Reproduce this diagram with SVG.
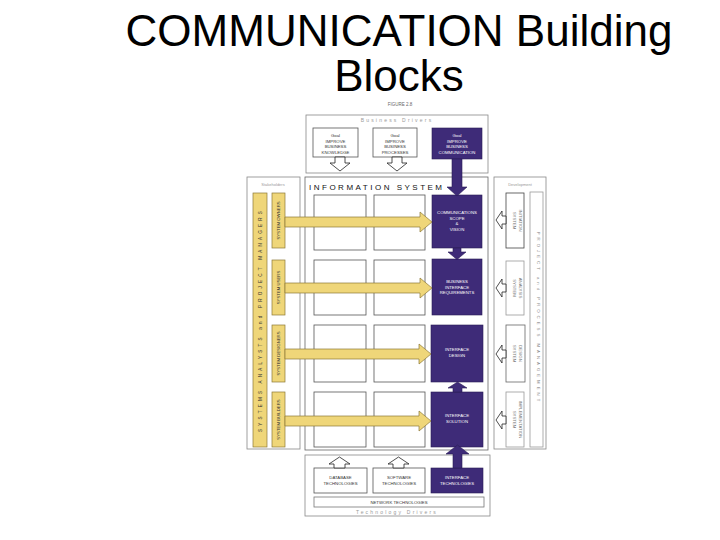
<svg xmlns="http://www.w3.org/2000/svg" width="720" height="540" viewBox="0 0 720 540">
<style>
.title{font-family:"Liberation Sans",Arial,sans-serif;font-size:44px;fill:#000;text-anchor:middle}
.t{font-family:"Liberation Sans",Arial,sans-serif;text-anchor:middle}
.tiny{font-size:4.3px;fill:#333}
.wt{font-size:4.3px;fill:#fff}
.gray{font-size:5px;fill:#999;letter-spacing:2.2px}
.frame{fill:#fff;stroke:#888;stroke-width:0.8}
.cell{fill:#fff;stroke:#555;stroke-width:0.8}
.pur{fill:#3e2b78;stroke:#2a1d55;stroke-width:0.6}
.yel{fill:#efd679;stroke:#8c7838;stroke-width:0.7}
.out{fill:#fff;stroke:#222;stroke-width:0.8}
.dev{fill:#fff;stroke:#999;stroke-width:0.8}
.vt{font-size:4.3px;fill:#333}
.gt{font-size:4px;fill:#999}
</style>

<text class="title" x="399" y="46">COMMUNICATION Building</text>
<text class="title" x="399" y="91">Blocks</text>

<g id="figure-label"><text class="t" x="400" y="106" style="font-size:4.5px;fill:#666">FIGURE 2.8</text></g>

<g id="business-drivers">
<rect class="frame" x="306" y="115" width="182" height="58"/>
<text class="t gray" x="397" y="122">Business Drivers</text>
</g>

<g id="goal-knowledge">
<rect class="cell" x="313" y="128" width="45" height="29"/>
<text class="t tiny" x="335.5" y="137">Goal</text>
<text class="t tiny" x="335.5" y="142.5">IMPROVE</text>
<text class="t tiny" x="335.5" y="148">BUSINESS</text>
<text class="t tiny" x="335.5" y="153.5">KNOWLEDGE</text>
</g>
<g id="goal-processes">
<rect class="cell" x="373" y="128" width="44" height="29"/>
<text class="t tiny" x="395" y="137">Goal</text>
<text class="t tiny" x="395" y="142.5">IMPROVE</text>
<text class="t tiny" x="395" y="148">BUSINESS</text>
<text class="t tiny" x="395" y="153.5">PROCESSES</text>
</g>
<g id="goal-communication">
<rect class="pur" x="432" y="128" width="50" height="31"/>
<text class="t wt" x="457" y="137">Goal</text>
<text class="t wt" x="457" y="142.5">IMPROVE</text>
<text class="t wt" x="457" y="148">BUSINESS</text>
<text class="t wt" x="457" y="153.5">COMMUNICATION</text>
</g>

<g id="stakeholders">
<rect class="frame" x="247" y="177" width="53" height="272"/>
<text class="t gt" x="273" y="186">Stakeholders</text>
<rect class="yel" x="253" y="193" width="14" height="254"/>
<text class="t" transform="translate(261.5,320) rotate(-90)" style="font-size:4.6px;fill:#333;letter-spacing:3.2px">SYSTEMS ANALYSTS and PROJECT MANAGERS</text>
</g>
<g id="system-owners"><rect class="yel" x="272" y="193" width="13" height="55"/><text class="t vt" transform="translate(280,220.5) rotate(-90)">SYSTEM OWNERS</text></g>
<g id="system-users"><rect class="yel" x="272" y="260" width="13" height="55"/><text class="t vt" transform="translate(280,287.5) rotate(-90)">SYSTEM USERS</text></g>
<g id="system-designers"><rect class="yel" x="272" y="325" width="13" height="57"/><text class="t vt" transform="translate(280,353.5) rotate(-90)">SYSTEM DESIGNERS</text></g>
<g id="system-builders"><rect class="yel" x="272" y="392" width="13" height="55"/><text class="t vt" transform="translate(280,419.5) rotate(-90)">SYSTEM BUILDERS</text></g>

<g id="information-system">
<rect class="frame" x="305" y="177" width="183" height="273" style="stroke:#666"/>
<text x="309" y="190" style="font-family:'Liberation Sans',Arial,sans-serif;font-size:8px;fill:#111;letter-spacing:2.5px">INFORMATION SYSTEM</text>
<rect class="cell" x="314" y="195" width="52" height="55"/>
<rect class="cell" x="374" y="195" width="51" height="55"/>
<rect class="cell" x="314" y="260" width="52" height="55"/>
<rect class="cell" x="374" y="260" width="51" height="55"/>
<rect class="cell" x="314" y="325" width="52" height="57"/>
<rect class="cell" x="374" y="325" width="51" height="57"/>
<rect class="cell" x="314" y="392" width="52" height="55"/>
<rect class="cell" x="374" y="392" width="51" height="55"/>
</g>

<g id="communications-scope">
<rect class="pur" x="432" y="195" width="50" height="53"/>
<text class="t wt" x="457" y="214">COMMUNICATIONS</text>
<text class="t wt" x="457" y="219.5">SCOPE</text>
<text class="t wt" x="457" y="225">&amp;</text>
<text class="t wt" x="457" y="230.5">VISION</text>
</g>
<g id="business-interface-requirements">
<rect class="pur" x="432" y="259" width="50" height="56"/>
<text class="t wt" x="457" y="283">BUSINESS</text>
<text class="t wt" x="457" y="288.5">INTERFACE</text>
<text class="t wt" x="457" y="294">REQUIREMENTS</text>
</g>
<g id="interface-design">
<rect class="pur" x="431" y="325" width="52" height="57"/>
<text class="t wt" x="457" y="351">INTERFACE</text>
<text class="t wt" x="457" y="356.5">DESIGN</text>
</g>
<g id="interface-solution">
<rect class="pur" x="431" y="392" width="52" height="55"/>
<text class="t wt" x="457" y="417">INTERFACE</text>
<text class="t wt" x="457" y="422.5">SOLUTION</text>
</g>

<g id="development">
<rect class="frame" x="494" y="177" width="52" height="272"/>
<text class="t gt" x="520" y="186">Development</text>
<rect class="dev" x="530" y="192" width="13" height="255"/>
<text class="t" transform="translate(536.5,318) rotate(90)" style="font-size:4.3px;fill:#888;letter-spacing:3px">PROJECT and PROCESS MANAGEMENT</text>
</g>
<g id="system-initiation"><rect class="dev" x="506" y="193" width="18" height="55" style="stroke:#444"/>
<text class="t vt" transform="translate(513,220.5) rotate(90)" style="fill:#777">SYSTEM</text><text class="t vt" transform="translate(518.5,220.5) rotate(90)" style="fill:#777">INITIATION</text></g>
<g id="system-analysis"><rect class="dev" x="506" y="261" width="18" height="54"/>
<text class="t vt" transform="translate(513,288) rotate(90)" style="fill:#777">SYSTEM</text><text class="t vt" transform="translate(518.5,288) rotate(90)" style="fill:#777">ANALYSIS</text></g>
<g id="system-design"><rect class="dev" x="506" y="325" width="19" height="57" style="stroke:#666"/>
<text class="t vt" transform="translate(513,353.5) rotate(90)" style="fill:#777">SYSTEM</text><text class="t vt" transform="translate(518.5,353.5) rotate(90)" style="fill:#777">DESIGN</text></g>
<g id="system-implementation"><rect class="dev" x="506" y="392" width="18" height="55"/>
<text class="t vt" transform="translate(513,419.5) rotate(90)" style="fill:#777">SYSTEM</text><text class="t vt" transform="translate(518.5,419.5) rotate(90)" style="fill:#777">IMPLEMENTATION</text></g>

<g id="technology-drivers">
<rect class="frame" x="305" y="455" width="185" height="61"/>
<text class="t gray" x="397" y="514">Technology Drivers</text>
</g>
<g id="database-technologies"><rect class="cell" x="314" y="468" width="53" height="25"/>
<text class="t tiny" x="340.5" y="479">DATABASE</text><text class="t tiny" x="340.5" y="485">TECHNOLOGIES</text></g>
<g id="software-technologies"><rect class="cell" x="373" y="468" width="52" height="25"/>
<text class="t tiny" x="399" y="479">SOFTWARE</text><text class="t tiny" x="399" y="485">TECHNOLOGIES</text></g>
<g id="interface-technologies"><rect class="pur" x="431" y="468" width="52" height="25"/>
<text class="t wt" x="457" y="479">INTERFACE</text><text class="t wt" x="457" y="485">TECHNOLOGIES</text></g>
<g id="network-technologies"><rect class="cell" x="314" y="497" width="170" height="10" style="stroke:#777"/>
<text class="t tiny" x="399" y="503.5">NETWORK TECHNOLOGIES</text></g>

<g id="connectors">
<polygon class="yel" points="285,217 420,217 420,212 432,222 420,232 420,227 285,227"/>
<polygon class="yel" points="285,283 420,283 420,278 432,288 420,298 420,293 285,293"/>
<polygon class="yel" points="285,349 419,349 419,344 431,354 419,364 419,359 285,359"/>
<polygon class="yel" points="285,416 419,416 419,411 431,421 419,431 419,426 285,426"/>
<polygon class="pur" points="452,159 462,159 462,187 467,187 457,196 447,187 452,187"/>
<polygon class="pur" points="453,248 461,248 461,252 466,252 457,259.5 448,252 453,252"/>
<polygon class="pur" points="453,392 462,392 462,388 467,388 457.5,382 448,388 453,388"/>
<polygon class="pur" points="453,468 462,468 462,454 469,454 457.5,445 446,454 453,454"/>
<polygon class="out" points="335,157 345,157 345,163 350,163 340,171 330,163 335,163"/>
<polygon class="out" points="392,157 402,157 402,163 407,163 397,171 387,163 392,163"/>
<polygon class="out" points="334,468 345,468 345,464 350,464 339.5,457 329,464 334,464"/>
<polygon class="out" points="393,468 404,468 404,464 409,464 398.5,457 388,464 393,464"/>
<polygon class="out" points="506,216 502,216 502,211 496,220 502,229 502,224 506,224"/>
<polygon class="out" points="506,284 502,284 502,279 496,288 502,297 502,292 506,292"/>
<polygon class="out" points="506,350 502,350 502,345 496,354 502,363 502,358 506,358"/>
<polygon class="out" points="506,416 502,416 502,411 496,420 502,429 502,424 506,424"/>
</g>
</svg>
